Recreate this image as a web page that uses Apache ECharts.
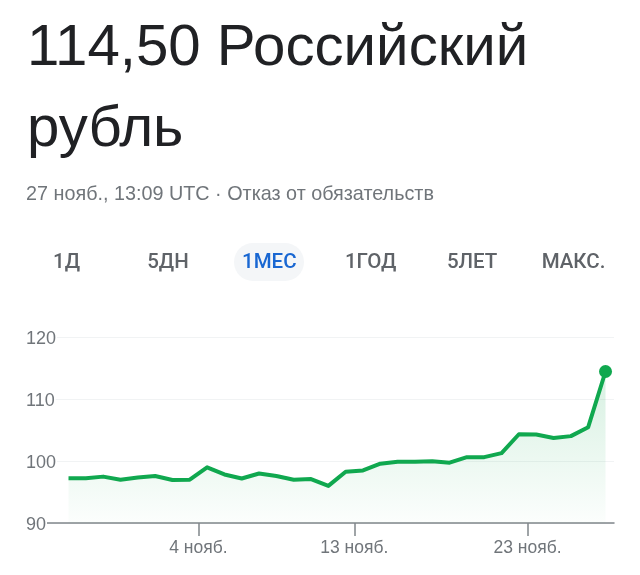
<!DOCTYPE html>
<html>
<head>
<meta charset="utf-8">
<style>
html,body{margin:0;padding:0;background:#fff}
#chart{width:640px;height:575px}
</style>
<script src="https://cdn.jsdelivr.net/npm/echarts@6/dist/echarts.min.js"></script>
</head>
<body>
<div id="chart"></div>
<script>
var FONT = '"Liberation Sans", Arial, sans-serif';

var headLines = ['114,50 Российский', 'рубль'];
var subLine = '27 нояб., 13:09 UTC · Отказ от обязательств';
var tabs = ['1Д', '5ДН', '1МЕС', '1ГОД', '5ЛЕТ', 'МАКС.'];
var activeTab = 2;

// one value per day, 27 Oct .. 27 Nov
var rates = [97.25, 97.25, 97.5, 97.0, 97.35, 97.6, 96.95, 97.0, 99.0, 97.85, 97.2, 98.0, 97.6, 97.0, 97.1, 96.0,
	98.3, 98.5, 99.6, 99.9, 99.9, 100.0, 99.75, 100.65, 100.65, 101.3, 104.35, 104.3, 103.75, 104.05, 105.5, 114.5];
// ticks sit at the start of the day, half a step before that day's point
var tickDays = [7.5, 16.5, 26.5];
var tickLabels = ['4 нояб.', '13 нояб.', '23 нояб.'];
var yTicks = [90, 100, 110, 120];

var points = rates.map(function(v, i){
	return [i, v];
});

var graphic = [{
	type: 'rect', left: 234, top: 243, silent: true,
	shape: {width: 70, height: 38, r: 19},
	style: {fill: '#f4f6f8'}
}];
tabs.forEach(function(t, i){
	graphic.push({
		type: 'text', silent: true,
		x: 66.5 + i * 101.4, y: 263,
		style: {
			text: t, align: 'center', verticalAlign: 'middle',
			font: '500 20.5px Roboto, ' + FONT,
			fill: i === activeTab ? '#1967d2' : '#5f6368'
		}
	});
});

var chart = echarts.init(document.getElementById('chart'));
chart.setOption({
	animation: false,
	backgroundColor: '#fff',
	title: [
		{text: headLines[0], left: 27, top: 20, padding: 0, textStyle: {color: '#202124', fontFamily: FONT, fontSize: 58.2, fontWeight: 'normal'}},
		{text: headLines[1], left: 27, top: 101, padding: 0, textStyle: {color: '#202124', fontFamily: FONT, fontSize: 58.2, fontWeight: 'normal'}},
		{text: subLine, left: 26, top: 185, padding: 0, textStyle: {color: '#70757a', fontFamily: FONT, fontSize: 19.8, fontWeight: 'normal'}}
	],
	graphic: graphic,
	grid: {left: 46, right: 26, top: 337.5, bottom: 52},
	xAxis: {
		type: 'value',
		min: -1.3,
		max: 31.49,
		axisLine: {onZero: false, lineStyle: {color: '#80868b', width: 1.5}},
		axisTick: {show: true, customValues: tickDays, length: 13, lineStyle: {color: '#80868b', width: 1.5}},
		axisLabel: {
			customValues: tickDays,
			color: '#70757a', fontFamily: FONT, fontSize: 17.5, margin: 16,
			formatter: function(v){
				return tickLabels[tickDays.indexOf(v)];
			}
		},
		splitLine: {show: false}
	},
	yAxis: {
		type: 'value',
		min: yTicks[0],
		max: yTicks[yTicks.length - 1],
		interval: 10,
		axisLine: {show: false},
		axisTick: {show: false},
		axisLabel: {
			align: 'left', margin: 20,
			color: '#70757a', fontFamily: FONT, fontSize: 18,
			backgroundColor: '#fff',
			formatter: '{v|{value}}',
			rich: {v: {color: '#70757a', fontFamily: FONT, fontSize: 18, padding: [4, 1, 0, 0]}}
		},
		splitLine: {lineStyle: {color: '#f1f3f4', width: 1}}
	},
	series: [{
		type: 'line',
		data: points,
		symbol: 'none',
		lineStyle: {color: '#10a84f', width: 4, join: 'round'},
		areaStyle: {
			color: new echarts.graphic.LinearGradient(0, 0, 0, 1, [
				{offset: 0, color: 'rgba(16,168,79,0.24)'},
				{offset: 1, color: 'rgba(16,168,79,0.02)'}
			])
		}
	}, {
		type: 'scatter',
		data: points.slice(-1),
		symbolSize: 13,
		itemStyle: {color: '#10a84f', opacity: 1}
	}]
});
</script>
</body>
</html>
